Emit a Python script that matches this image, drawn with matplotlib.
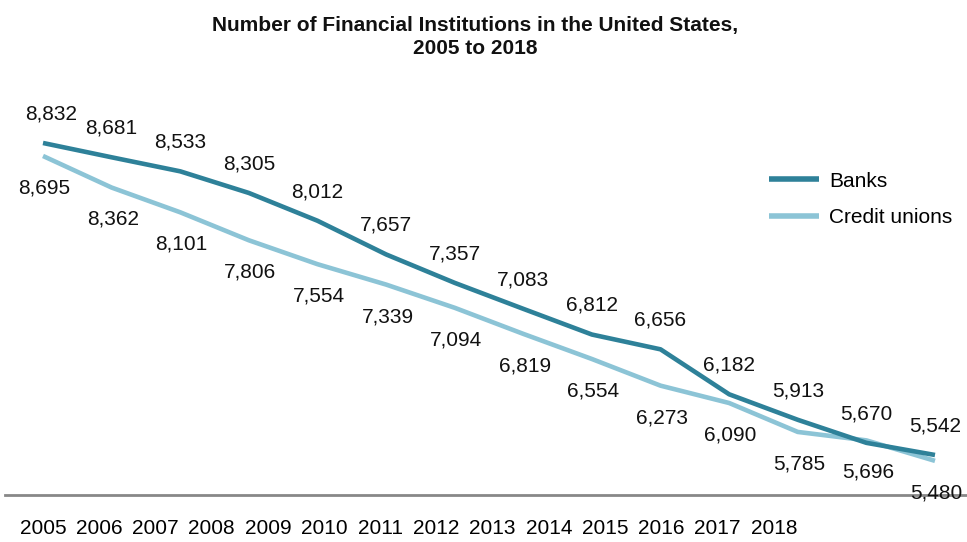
import matplotlib
matplotlib.use("Agg")
import matplotlib.pyplot as plt
from matplotlib import font_manager

years = [2005, 2006, 2007, 2008, 2009, 2010, 2011, 2012, 2013, 2014, 2015, 2016, 2017, 2018]
banks = [8832, 8681, 8533, 8305, 8012, 7657, 7357, 7083, 6812, 6656, 6182, 5913, 5670, 5542]
credit_unions = [8695, 8362, 8101, 7806, 7554, 7339, 7094, 6819, 6554, 6273, 6090, 5785, 5696, 5480]
tick_labels = [str(y) for y in years]
title = "Number of Financial Institutions in the United States,\n2005 to 2018"

bank_color = "#2E8199"
cu_color = "#8CC4D6"

names = {f.name for f in font_manager.fontManager.ttflist}
base_font = "Liberation Sans" if "Liberation Sans" in names else "DejaVu Sans"
title_font = "Liberation Sans Narrow" if "Liberation Sans Narrow" in names else base_font
plt.rcParams['font.family'] = [base_font, 'DejaVu Sans']

W, H = 967, 542
fig = plt.figure(figsize=(W / 100, H / 100), dpi=100)
# axes: x from px 5 to 967, y from px 60 to 495
ax = fig.add_axes([5 / W, (H - 495) / H, 962 / W, 435 / H])

px_per_year = 68.6
ax.set_xlim(2005 - 38 / px_per_year, 2018 + 32 / px_per_year)
px_per_unit = 312 / 3290
ax.set_ylim(5120, 5120 + 435 / px_per_unit)

ax.plot(years, banks, color=bank_color, lw=3.3, solid_capstyle='butt', label="Banks", zorder=3)
ax.plot(years, credit_unions, color=cu_color, lw=3.3, solid_capstyle='butt', label="Credit unions", zorder=2)

fs = 15
for x, y in zip(years, banks):
    ax.annotate(f"{y:,}", (x, y), xytext=(6 if x == 2005 else 0, 21), textcoords='offset points',
                ha='center', va='center', fontsize=fs, color='#111111')
for x, y in zip(years, credit_unions):
    ax.annotate(f"{y:,}", (x, y), xytext=(1, -23), textcoords='offset points',
                ha='center', va='center', fontsize=fs, color='#111111')

# tick labels (evenly spaced, narrower spacing than the data points)
label_step = 56.2 / px_per_year
ax.set_xticks([2005 + i * label_step for i in range(len(years))], labels=tick_labels)
ax.tick_params(axis='x', length=0, pad=17, labelsize=fs)
ax.set_yticks([])
for s in ['top', 'right', 'left']:
    ax.spines[s].set_visible(False)
ax.spines['bottom'].set_color('#888888')
ax.spines['bottom'].set_linewidth(2)

leg = ax.legend(loc='upper left', bbox_to_anchor=(754 / W - 5 / W, 1 - (153 - 60) / 435),
                bbox_transform=ax.transAxes, frameon=False, fontsize=fs,
                handlelength=2.4, handletextpad=0.5, labelspacing=0.85)
for line in leg.get_lines():
    line.set_linewidth(4)

fig.text(475 / W, 1 - 37 / H, title, ha='center', va='center', fontsize=15,
         fontweight='bold', family=[title_font, 'DejaVu Sans'], linespacing=1.2, color='#111111')

fig.savefig("out.png", dpi=100, facecolor='white')
